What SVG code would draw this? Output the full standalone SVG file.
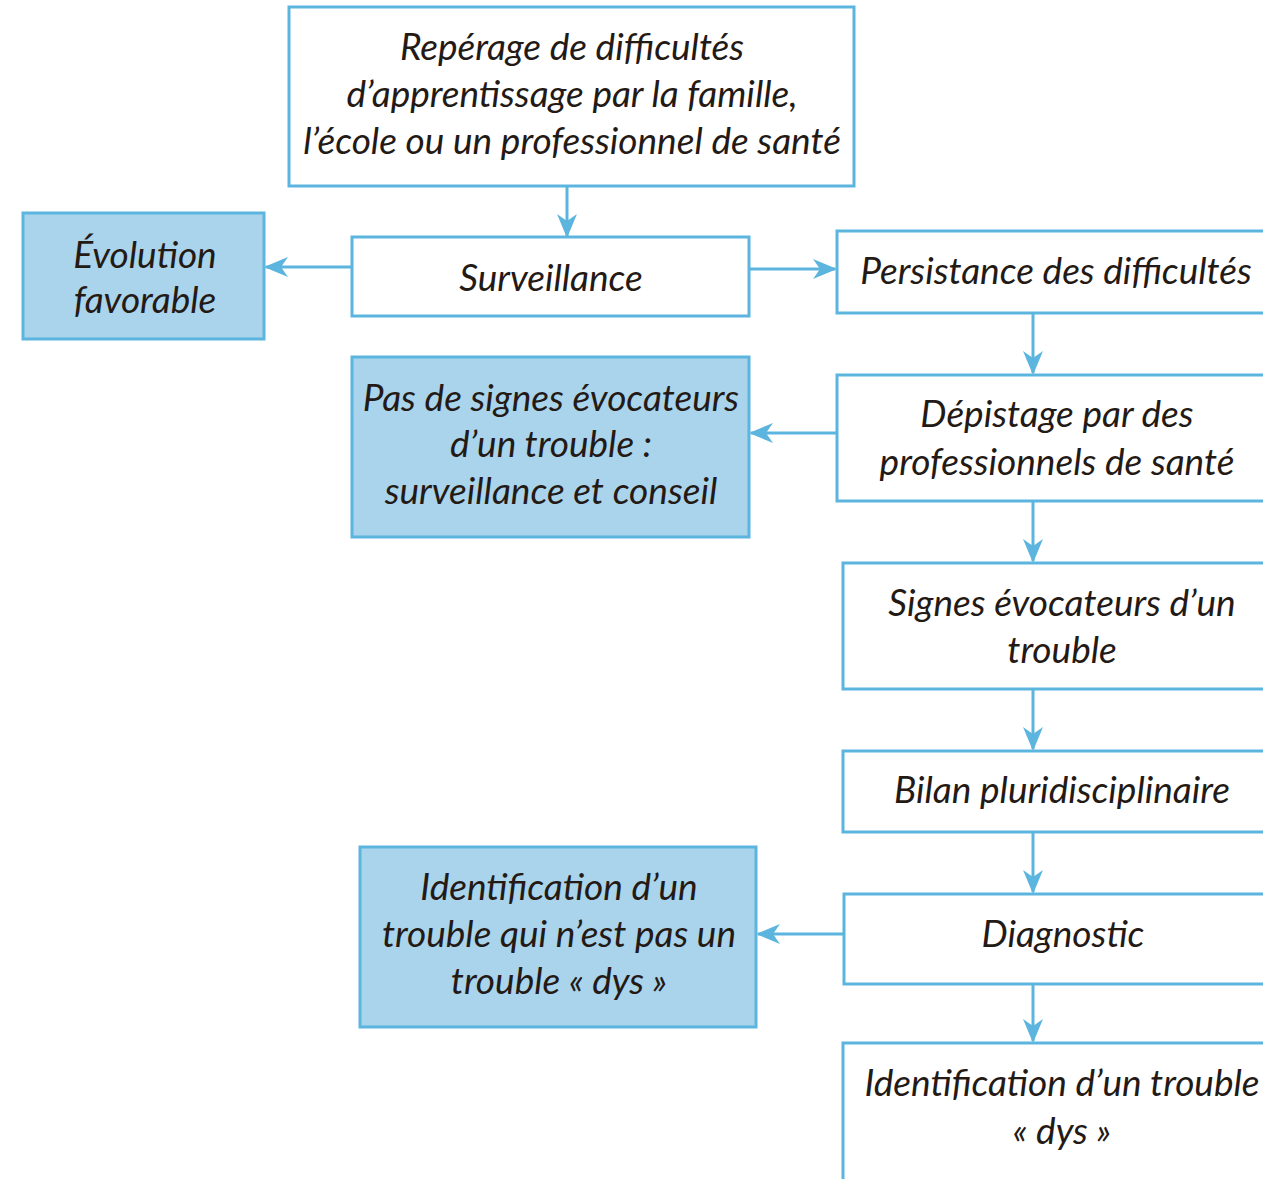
<svg xmlns="http://www.w3.org/2000/svg" width="1263" height="1179" viewBox="0 0 1263 1179">
<style>
.box{fill:#fff;stroke:#5cb5de;stroke-width:3}
.blue{fill:#a9d4ec;stroke:#5cb5de;stroke-width:3}
.t{font-family:Lato,"Open Sans",sans-serif;font-style:italic;font-size:37px;fill:#241a15;text-anchor:middle}
.c{stroke:#5cb5de;stroke-width:3;fill:none;marker-end:url(#ah)}
</style>
<defs>
<marker id="ah" viewBox="0 0 12 10" refX="11" refY="5" markerWidth="8" markerHeight="7" markerUnits="strokeWidth" orient="auto">
<path d="M0,0 L12,5 L0,10 L3.5,5 z" fill="#5cb5de"/>
</marker>
</defs>
<rect width="1263" height="1179" fill="#fff"/>
<g id="connectors">
<path class="c" d="M567,186 V236"/>
<path class="c" d="M352,267 H266"/>
<path class="c" d="M749,269 H835"/>
<path class="c" d="M1033,313 V373"/>
<path class="c" d="M837,433 H751"/>
<path class="c" d="M1033,501 V561"/>
<path class="c" d="M1033,689 V749"/>
<path class="c" d="M1033,832 V892"/>
<path class="c" d="M844,934 H758"/>
<path class="c" d="M1033,984 V1041"/>
</g>
<g id="n1"><rect class="box" x="289" y="7" width="565" height="179"/>
<text class="t" x="572" y="60">Repérage de difficultés</text>
<text class="t" x="572" y="107">d’apprentissage par la famille,</text>
<text class="t" x="572" y="154">l’école ou un professionnel de santé</text></g>
<g id="n2"><rect class="blue" x="23" y="213" width="241" height="126"/>
<text class="t" x="145" y="268">Évolution</text>
<text class="t" x="145" y="313">favorable</text></g>
<g id="n3"><rect class="box" x="352" y="237" width="397" height="79"/>
<text class="t" x="551" y="291">Surveillance</text></g>
<g id="n4"><rect class="box" x="837" y="231" width="450" height="82"/>
<text class="t" x="1056" y="284">Persistance des difficultés</text></g>
<g id="n5"><rect class="blue" x="352" y="357" width="397" height="180"/>
<text class="t" x="551" y="411">Pas de signes évocateurs</text>
<text class="t" x="551" y="457">d’un trouble :</text>
<text class="t" x="551" y="504">surveillance et conseil</text></g>
<g id="n6"><rect class="box" x="837" y="375" width="450" height="126"/>
<text class="t" x="1057" y="427">Dépistage par des</text>
<text class="t" x="1057" y="475">professionnels de santé</text></g>
<g id="n7"><rect class="box" x="843" y="563" width="450" height="126"/>
<text class="t" x="1062" y="616">Signes évocateurs d’un</text>
<text class="t" x="1062" y="663">trouble</text></g>
<g id="n8"><rect class="box" x="843" y="751" width="450" height="81"/>
<text class="t" x="1062" y="803">Bilan pluridisciplinaire</text></g>
<g id="n9"><rect class="box" x="844" y="894" width="450" height="90"/>
<text class="t" x="1063" y="947">Diagnostic</text></g>
<g id="n10"><rect class="blue" x="360" y="847" width="396" height="180"/>
<text class="t" x="559" y="900">Identification d’un</text>
<text class="t" x="559" y="947">trouble qui n’est pas un</text>
<text class="t" x="559" y="994">trouble « dys »</text></g>
<g id="n11"><rect class="box" x="843" y="1043" width="450" height="160"/>
<text class="t" x="1062" y="1096">Identification d’un trouble</text>
<text class="t" x="1062" y="1144">« dys »</text></g>
</svg>
